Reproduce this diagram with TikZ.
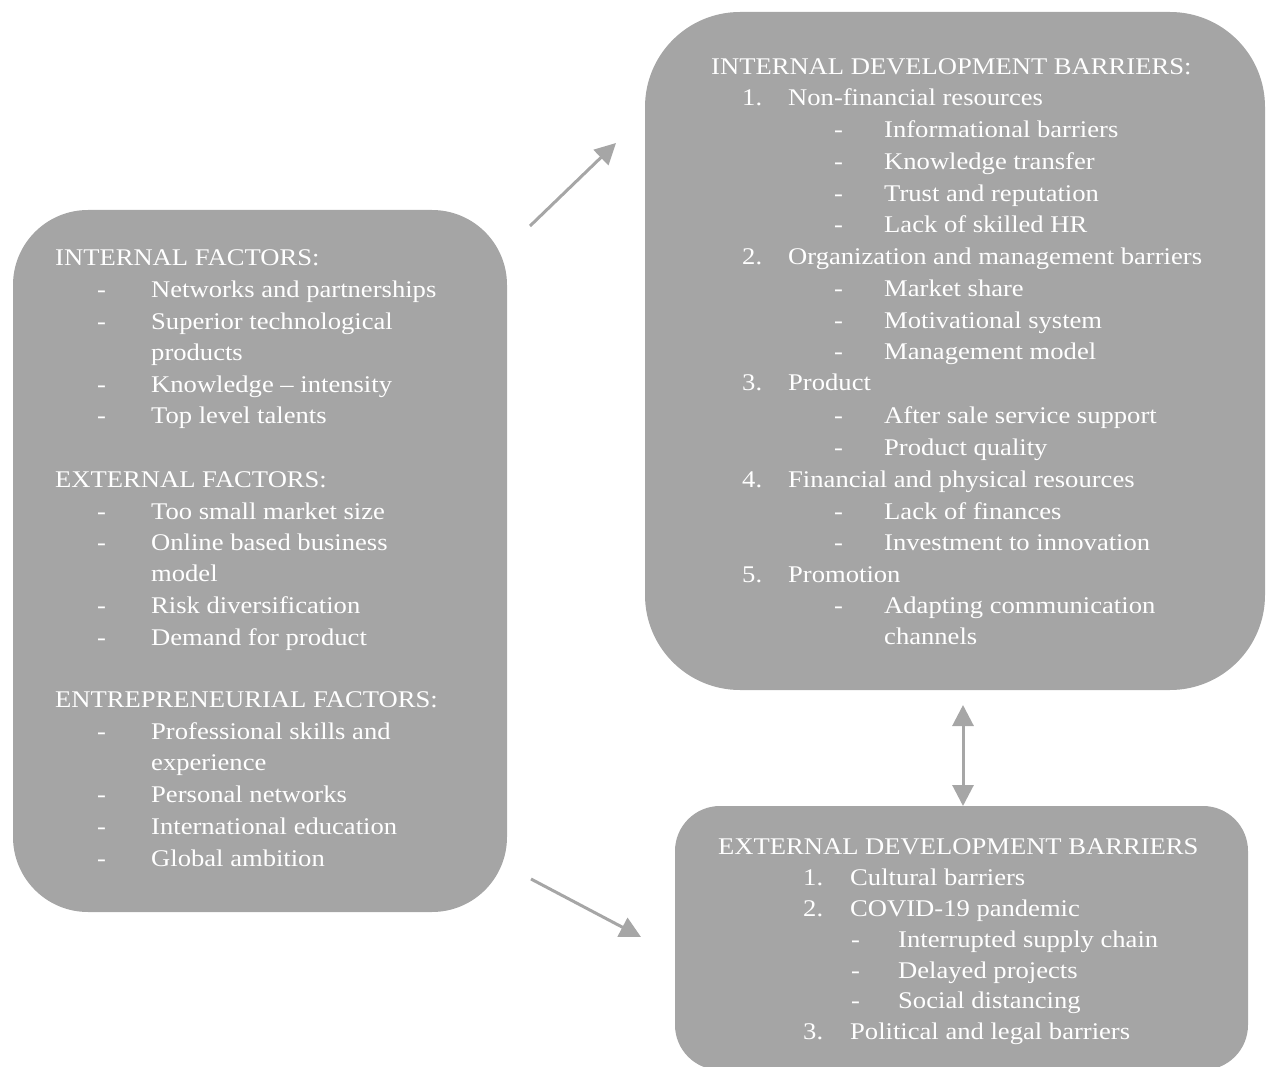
\documentclass[tikz,border=0pt]{standalone}
\usepackage{fontspec}
\setmainfont{Liberation Serif}
\usetikzlibrary{arrows.meta}
\definecolor{boxgray}{RGB}{165,165,165}
\definecolor{arrowgray}{RGB}{166,166,166}
% slightly condensed line height for the list text
\newcommand\squash[1]{\scalebox{1}[0.9]{#1}}
\tikzset{
  panel/.style={fill=boxgray, draw=none, inner sep=0pt},
  txt/.style={anchor=base west, inner sep=0pt, text=white, font=\fontsize{26.6}{32}\selectfont},
  link/.style={draw=arrowgray, line width=3pt, -{Triangle[length=21pt,width=21pt]}},
  duallink/.style={draw=arrowgray, line width=3pt, {Triangle[length=21pt,width=21pt]}-{Triangle[length=21pt,width=21pt]}},
}
\begin{document}
\begin{tikzpicture}[x=1pt,y=-1pt]
\useasboundingbox (0,0) rectangle (1270,1067);

% the three panels
\node[panel, rounded corners=75pt, minimum width=494pt, minimum height=702pt] (factors) at (260,561) {};
\node[panel, rounded corners=95pt, minimum width=620pt, minimum height=678pt] (internal) at (955,351) {};
\begin{scope}
\clip (0,0) rectangle (1270,1067);
\node[panel, rounded corners=45pt, minimum width=573pt, minimum height=264pt] (external) at (961.5,938) {};
\end{scope}

\begin{scope}[yshift=-2pt]
% factor list
\node[txt] (f0) at (55,264) {\squash{INTERNAL FACTORS:}};
\foreach \y/\t [count=\i] in {296/Networks and partnerships, 328/Superior technological, 391/Knowledge -- intensity, 422/Top level talents,
  517/Too small market size, 548/Online based business, 611/Risk diversification, 643/Demand for product,
  737/Professional skills and, 800/Personal networks, 832/International education, 864/Global ambition}
  {\node[txt] (fd\i) at (97,\y) {\squash{-}}; \node[txt] (fi\i) at (151,\y) {\squash{\t}};}
\node[txt] (fc1) at (151,359) {\squash{products}};
\node[txt] (fc2) at (151,579) {\squash{model}};
\node[txt] (fc3) at (151,768) {\squash{experience}};
\node[txt] (f1) at (55,485) {\squash{EXTERNAL FACTORS:}};
\node[txt] (f2) at (55,705) {\squash{ENTREPRENEURIAL FACTORS:}};

% internal barriers
\node[txt] (i0) at (711,73) {\squash{INTERNAL DEVELOPMENT BARRIERS:}};
\foreach \y/\n/\t [count=\i] in {104/1./Non-financial resources, 263/2./Organization and management barriers,
  389/3./Product, 485/4./Financial and physical resources, 580/5./Promotion}
  {\node[txt] (in\i) at (742,\y) {\squash{\n}}; \node[txt] (it\i) at (788,\y) {\squash{\t}};}
\foreach \y/\t [count=\i] in {136/Informational barriers, 168/Knowledge transfer, 200/Trust and reputation, 231/Lack of skilled HR,
  295/Market share, 327/Motivational system, 358/Management model,
  422/After sale service support, 454/Product quality,
  517/Lack of finances, 548/Investment to innovation, 611/Adapting communication}
  {\node[txt] (id\i) at (834,\y) {\squash{-}}; \node[txt] (is\i) at (884,\y) {\squash{\t}};}
\node[txt] (ic) at (884,642) {\squash{channels}};

% external barriers
\node[txt] (e0) at (718,852) {\squash{EXTERNAL DEVELOPMENT BARRIERS}};
\foreach \y/\n/\t [count=\i] in {883/1./Cultural barriers, 914/2./COVID-19 pandemic, 1037/3./Political and legal barriers}
  {\node[txt] (en\i) at (803,\y) {\squash{\n}}; \node[txt] (et\i) at (850,\y) {\squash{\t}};}
\foreach \y/\t [count=\i] in {945/Interrupted supply chain, 976/Delayed projects, 1006/Social distancing}
  {\node[txt] (ed\i) at (851,\y) {\squash{-}}; \node[txt] (es\i) at (898,\y) {\squash{\t}};}
\end{scope}

% connectors
\coordinate (a1s) at (530,226);
\coordinate (a1e) at (616,143);
\coordinate (a2s) at (531,879);
\coordinate (a2e) at (641,937);
\coordinate (a3s) at (963,705);
\coordinate (a3e) at (963,806);
\draw[link] (a1s) -- (a1e);
\draw[link] (a2s) -- (a2e);
\draw[duallink] (a3s) -- (a3e);
\end{tikzpicture}
\end{document}
